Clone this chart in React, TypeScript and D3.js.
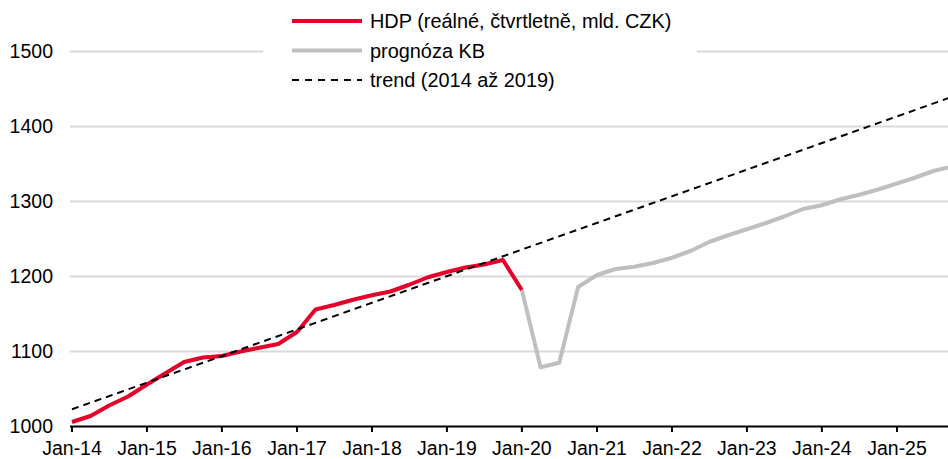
import React from "react";
import * as d3 from "d3";

// ---- data ----
const hdpStart = "2014-01-01";
const hdpValues = [
  1006, 1014, 1028, 1040, 1056, 1071, 1086, 1092, 1094, 1100, 1105, 1110,
  1126, 1156, 1162, 1169, 1175, 1180, 1189, 1199, 1206, 1212, 1216, 1222, 1182,
];
const forecastStart = "2020-01-01";
const forecastValues = [
  1182, 1079, 1085, 1186, 1202, 1210, 1213, 1218, 1225, 1234, 1246, 1255,
  1263, 1271, 1280, 1290, 1295, 1303, 1309, 1316, 1324, 1332, 1341, 1347,
];
const trendDates = ["2014-01-01", "2025-10-01"];
const trendValues = [1023, 1440];
const yTicks = [1000, 1100, 1200, 1300, 1400, 1500];
const xTickYears = [2014, 2015, 2016, 2017, 2018, 2019, 2020, 2021, 2022, 2023, 2024, 2025];
const legendLabels = ["HDP (reálné, čtvrtletně, mld. CZK)", "prognóza KB", "trend (2014 až 2019)"];

const W = 948;
const H = 459;
const FONT = "'Liberation Sans', Arial, sans-serif";
const RED = "#E4002B";
const GREY = "#C0BFBF";

function quarterDates(start: string, n: number): Date[] {
  const s = new Date(start + "T00:00:00");
  return d3.timeMonth.every(3)!.range(s, d3.timeMonth.offset(s, 3 * n));
}

export default function App() {
  const x = d3
    .scaleTime()
    .domain([new Date(2014, 0, 1), new Date(2025, 0, 1)])
    .range([72, 897]);
  const y = d3.scaleLinear().domain([1000, 1500]).range([426.5, 51.5]);

  const hdp = quarterDates(hdpStart, hdpValues.length).map((d, i) => [d, hdpValues[i]] as [Date, number]);
  const fc = quarterDates(forecastStart, forecastValues.length).map((d, i) => [d, forecastValues[i]] as [Date, number]);
  const tr = trendDates.map((d, i) => [new Date(d + "T00:00:00"), trendValues[i]] as [Date, number]);

  const line = d3
    .line<[Date, number]>()
    .x((d) => x(d[0]))
    .y((d) => y(d[1]));

  const fmt = d3.timeFormat("%b-%y");
  const x0 = 70;

  return (
    <svg
      width={W}
      height={H}
      style={{ position: "absolute", left: 0, top: 0, background: "#fff" }}
      fontFamily={FONT}
    >
      {/* grid */}
      {yTicks.slice(1).map((t) => (
        <line key={t} x1={x0} x2={W} y1={y(t)} y2={y(t)} stroke="#D9D9D9" strokeWidth={2} />
      ))}
      {/* y labels */}
      {yTicks.map((t) => (
        <text key={t} x={53} y={y(t)} dy="0.35em" textAnchor="end" fontSize={19.5} fill="#000">
          {t}
        </text>
      ))}
      {/* series */}
      <path d={line(fc) || ""} fill="none" stroke={GREY} strokeWidth={4} strokeLinejoin="round" />
      <path d={line(hdp) || ""} fill="none" stroke={RED} strokeWidth={4} strokeLinejoin="round" />
      <path d={line(tr) || ""} fill="none" stroke="#000" strokeWidth={2} strokeDasharray="7,5" />
      {/* x axis */}
      <line x1={x0} x2={W} y1={426.5} y2={426.5} stroke="#000" strokeWidth={2} />
      {xTickYears.map((yr) => {
        const d = new Date(yr, 0, 1);
        const px = x(d);
        return (
          <g key={yr}>
            <line x1={px} x2={px} y1={426.5} y2={432} stroke="#000" strokeWidth={2} />
            <text x={px} y={455} textAnchor="middle" fontSize={19.5} fill="#000">
              {fmt(d)}
            </text>
          </g>
        );
      })}
      {/* legend */}
      <rect x={263} y={4} width={434} height={92} fill="#fff" />
      <line x1={292} x2={362} y1={21} y2={21} stroke={RED} strokeWidth={4} />
      <line x1={292} x2={362} y1={50.5} y2={50.5} stroke={GREY} strokeWidth={4} />
      <line x1={292} x2={362} y1={80} y2={80} stroke="#000" strokeWidth={2} strokeDasharray="7,6" />
      {legendLabels.map((l, i) => (
        <text key={l} x={370} y={28 + i * 29.7} fontSize={19.9} fill="#000">
          {l}
        </text>
      ))}
    </svg>
  );
}
